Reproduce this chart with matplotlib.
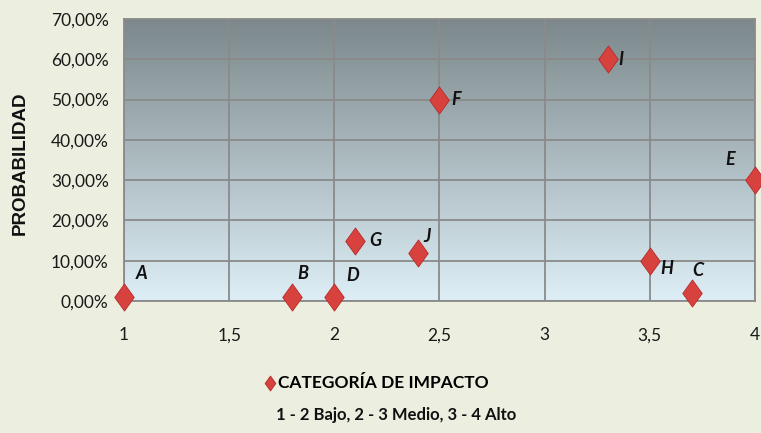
import numpy as np
import matplotlib
matplotlib.use("Agg")
import matplotlib.pyplot as plt
from matplotlib.path import Path
from matplotlib.ticker import FuncFormatter, MultipleLocator

plt.rcParams['font.family'] = ['Lato', 'DejaVu Sans']

# Risk points: impact category vs probability
labels = ["A", "B", "C", "D", "E", "F", "G", "H", "I", "J"]
impacto = [1.0, 1.8, 3.7, 2.0, 4.0, 2.5, 2.1, 3.5, 3.3, 2.4]
probabilidad = [0.01, 0.01, 0.02, 0.01, 0.30, 0.50, 0.15, 0.10, 0.60, 0.12]

# label offsets in pixels (dx, dy)
offsets = {"A": (12, 23), "B": (5, 23), "C": (0, 22), "D": (12, 21), "E": (-30, 21),
           "F": (12, 0), "G": (14, 0), "H": (10, -8), "I": (11, 0), "J": (5, 16)}

BG = "#ECEFE0"
fig = plt.figure(figsize=(7.61, 4.33), dpi=100, facecolor=BG)
ax = fig.add_axes([124/761, 1 - 301/433, 631/761, 282/433])
ax.set_xlim(1, 4)
ax.set_ylim(0, 0.70)

# vertical gradient for the plot area
top = np.array([0x7C, 0x88, 0x8B]) / 255
bot = np.array([0xDD, 0xEE, 0xF6]) / 255
t = np.linspace(0, 1, 256)[:, None]
grad = (top * (1 - t) + bot * t)[:, None, :]
ax.imshow(grad, extent=[1, 4, 0, 0.70], aspect="auto", origin="upper", zorder=0)

ax.xaxis.set_major_locator(MultipleLocator(0.5))
ax.yaxis.set_major_locator(MultipleLocator(0.10))
ax.grid(True, color="#8A8A8A", linewidth=1.3, zorder=1)
ax.set_axisbelow(False)
for s in ax.spines.values():
    s.set_color("#8A8A8A")
    s.set_linewidth(1.3)

ax.xaxis.set_major_formatter(FuncFormatter(lambda v, p: ("%g" % v).replace(".", ",")))
ax.yaxis.set_major_formatter(FuncFormatter(lambda v, p: ("%.2f%%" % (v * 100)).replace(".", ",")))
ax.tick_params(axis="both", length=0, labelsize=12.5, colors="#1A1A1A")
ax.tick_params(axis="x", pad=19)
ax.tick_params(axis="y", pad=11)

diamond = Path([(0, 1), (0.72, 0), (0, -1), (-0.72, 0), (0, 1)],
               [Path.MOVETO, Path.LINETO, Path.LINETO, Path.LINETO, Path.CLOSEPOLY])

sc = ax.scatter(impacto, probabilidad, marker=diamond, s=380, color="#D8423E",
                edgecolors="#B52A28", linewidths=0.6, zorder=4, clip_on=False,
                label="CATEGORÍA DE IMPACTO")

for lab, x, y in zip(labels, impacto, probabilidad):
    dx, dy = offsets[lab]
    ax.annotate(lab, (x, y), xytext=(dx, dy), textcoords="offset pixels",
                ha="left", va="center", fontsize=13,
                fontweight="bold", fontstyle="italic", color="#111111", zorder=5,
                annotation_clip=False)

fig.text(20/761, 1 - 163/433, "PROBABILIDAD", rotation=90, ha="center", va="center",
         fontsize=13.5, fontweight="bold", family=["Liberation Sans", "DejaVu Sans"],
         color="#111111")

leg = ax.legend(handles=[sc], loc="center left", bbox_to_anchor=(247/761, 1 - 383/433),
                bbox_transform=fig.transFigure, frameon=False, handletextpad=0.1,
                handlelength=0.8, markerscale=0.55, prop=dict(size=12.5, weight="bold"))
fig.text(276/761, 1 - 415/433, "1 - 2 Bajo, 2 - 3 Medio, 3 - 4 Alto", ha="left", va="center",
         fontsize=12, fontweight="bold", color="#111111")

fig.savefig("out.png", dpi=100, facecolor=BG)
